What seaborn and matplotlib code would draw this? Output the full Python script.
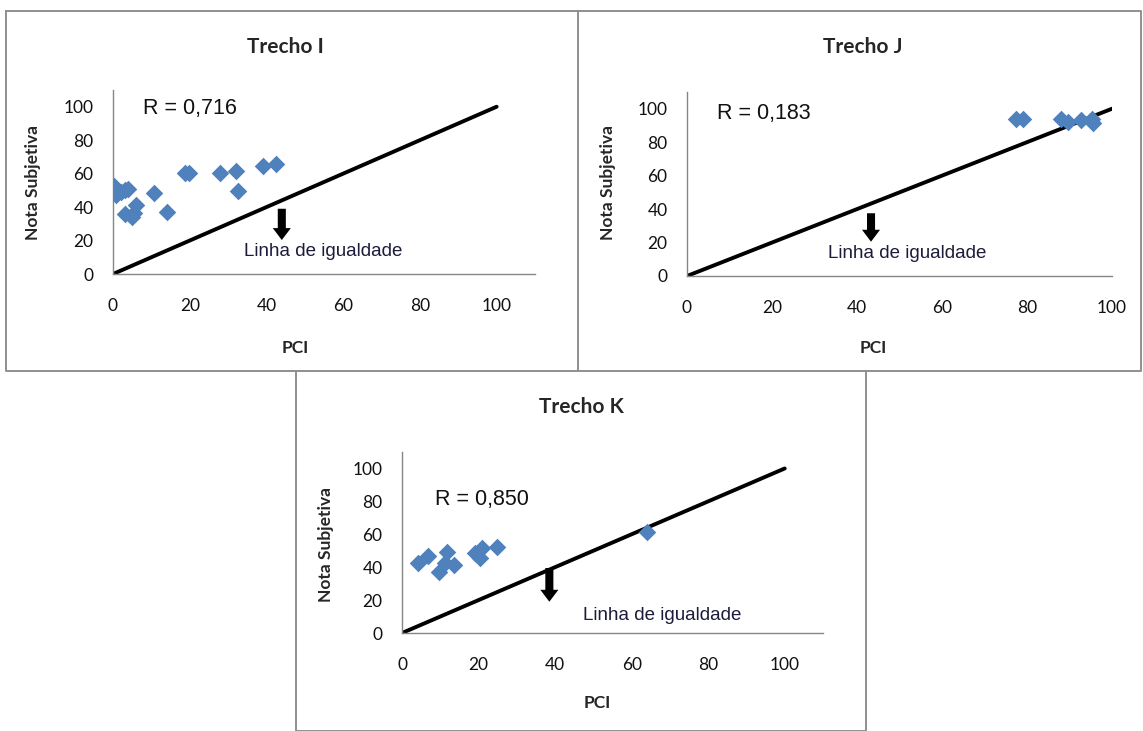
import matplotlib
matplotlib.use("Agg")
import matplotlib.pyplot as plt
import seaborn as sns
import pandas as pd
from matplotlib.lines import Line2D

# data
pci_i = [0.3, 0.8, 3.0, 3.8, 2.0, 3.2, 4.9, 5.4, 6.1, 10.6, 14.1, 18.8, 19.7, 27.9, 32.0, 32.6, 39.1, 42.4]
nota_i = [52.5, 47.0, 50.0, 51.0, 49.0, 35.8, 33.8, 36.4, 41.0, 48.7, 37.0, 60.6, 60.6, 60.6, 61.8, 49.9, 64.6, 65.8]

pci_j = [77.5, 79.1, 88.1, 89.6, 92.8, 95.2, 95.5]
nota_j = [93.6, 93.6, 94.0, 92.0, 93.0, 94.0, 91.5]

pci_k = [4.3, 6.9, 9.6, 11.3, 11.7, 13.5, 19.1, 20.4, 20.9, 24.8, 64.0]
nota_k = [42.8, 46.8, 37.3, 42.4, 49.5, 41.4, 48.5, 45.4, 51.5, 52.5, 61.6]

titles = ["Trecho I", "Trecho J", "Trecho K"]
r_labels = ["R = 0,716", "R = 0,183", "R = 0,850"]
ticks = [0, 20, 40, 60, 80, 100]
eq_line = [0, 100]

sns.set_style("white")
plt.rcParams["font.family"] = ["Liberation Sans", "DejaVu Sans"]

W, H = 1143, 731
fig = plt.figure(figsize=(W / 100, H / 100), dpi=100)
blue = "#4F81BD"
gray = "#868686"


def px_axes(left, top, right, bottom):
    return fig.add_axes([left / W, 1 - bottom / H, (right - left) / W, (bottom - top) / H])


def fig_line(xs, ys):
    fig.add_artist(Line2D([x / W for x in xs], [1 - y / H for y in ys],
                          color="#8f8f8f", lw=1.4, transform=fig.transFigure))


# panel frames
fig_line([6, 578, 578, 6, 6], [11, 11, 371, 371, 11])
fig_line([578, 1141, 1141, 578], [11, 11, 371, 371])
fig_line([296, 296, 866, 866], [371, 731, 731, 371])

panels = [
    dict(box=(113, 90, 535, 274), xmax=110, x=pci_i, y=nota_i, rpos=(7.8, 99),
         arrow=(44, 39, 20.3), tpos=(54.7, 13.5), title=(285, 47), ylab=(33, 182), xlab=(295, 348)),
    dict(box=(687, 92, 1112, 276), xmax=100, x=pci_j, y=nota_j, rpos=(7, 97),
         arrow=(43.3, 37.5, 20.5), tpos=(51.8, 13.2), title=(863, 47), ylab=(608, 182), xlab=(873, 348)),
    dict(box=(402, 452, 823, 633), xmax=110, x=pci_k, y=nota_k, rpos=(8.7, 81),
         arrow=(38.5, 39.5, 19), tpos=(68, 10.5), title=(581, 407), ylab=(326, 545), xlab=(597, 703)),
]

for p, title, rlab in zip(panels, titles, r_labels):
    ax = px_axes(*p["box"])
    df = pd.DataFrame({"PCI": p["x"], "Nota": p["y"]})
    sns.lineplot(x=eq_line, y=eq_line, ax=ax, color="black", lw=2.8, zorder=2)
    sns.scatterplot(data=df, x="PCI", y="Nota", ax=ax, marker="D", s=80,
                    color=blue, edgecolor=blue, linewidth=0, zorder=3)
    ax.set_xlim(0, p["xmax"])
    ax.set_ylim(0, 110)
    ax.set_xticks(ticks)
    ax.set_yticks(ticks)
    ax.set_xlabel("")
    ax.set_ylabel("")
    for side in ["top", "right"]:
        ax.spines[side].set_visible(False)
    for side in ["left", "bottom"]:
        ax.spines[side].set_color(gray)
        ax.spines[side].set_linewidth(1.0)
    ax.tick_params(axis="both", direction="out", length=5, width=1, color=gray,
                   labelsize=12.5, labelcolor="#111111")
    ax.tick_params(axis="x", pad=12)
    ax.tick_params(axis="y", pad=9)
    for lab in ax.get_xticklabels() + ax.get_yticklabels():
        lab.set_fontfamily("Lato")

    ax.text(p["rpos"][0], p["rpos"][1], rlab, fontsize=15.5, va="center", ha="left", color="#111111")
    ax_x, y0, y1 = p["arrow"]
    ax.annotate("", xy=(ax_x, y1), xytext=(ax_x, y0),
                arrowprops=dict(arrowstyle="simple,head_length=0.43,head_width=0.65,tail_width=0.29",
                                mutation_scale=20, color="black", lw=0,
                                shrinkA=0, shrinkB=0))
    ax.text(p["tpos"][0], p["tpos"][1], "Linha de igualdade", fontsize=13.5,
            ha="center", va="center", color="#1c1c3a")

    tx, ty = p["title"]
    fig.text(tx / W, 1 - ty / H, title, fontsize=15, fontweight="bold", family="Lato",
             ha="center", va="center")
    lx, ly = p["ylab"]
    fig.text(lx / W, 1 - ly / H, "Nota Subjetiva", fontsize=12.5, fontweight="bold", family="Lato",
             rotation=90, ha="center", va="center")
    xx, xy = p["xlab"]
    fig.text(xx / W, 1 - xy / H, "PCI", fontsize=12.5, fontweight="bold", family="Lato",
             ha="center", va="center")

fig.savefig("out.png", dpi=100, facecolor="white")
